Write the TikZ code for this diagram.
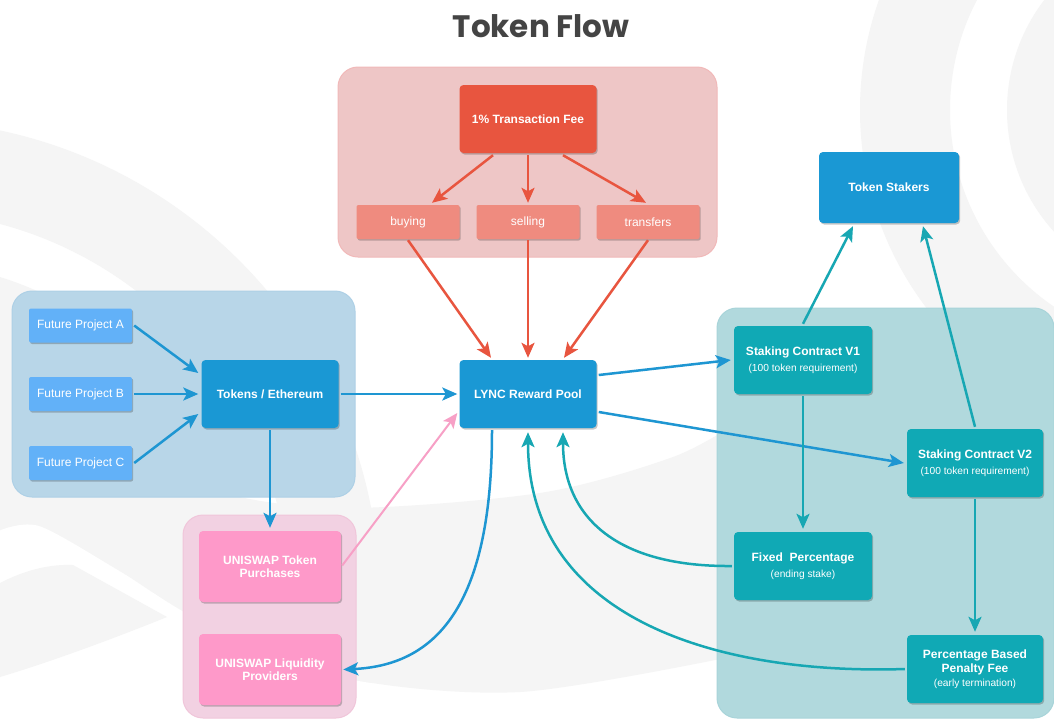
\documentclass[tikz,border=0pt]{standalone}
\usepackage{fontspec}
\setmainfont{Liberation Sans}
\newfontfamily\titlefont{Poppins}
\usetikzlibrary{arrows.meta,shadows}
\definecolor{feeRed}{HTML}{E8553F}
\definecolor{subRed}{HTML}{EF8B7F}
\definecolor{redBox}{HTML}{EEC6C6}
\definecolor{redBoxLine}{HTML}{F1B9B9}
\definecolor{blueBox}{HTML}{B8D6E8}
\definecolor{blueBoxLine}{HTML}{AED0E6}
\definecolor{futBlue}{HTML}{62B1F8}
\definecolor{mainBlue}{HTML}{1A98D4}
\definecolor{pinkBox}{HTML}{F2D1E2}
\definecolor{pinkBoxLine}{HTML}{F0C6DA}
\definecolor{pinkNode}{HTML}{FE99C9}
\definecolor{tealBox}{HTML}{B1D9DD}
\definecolor{tealBoxLine}{HTML}{A8D4D9}
\definecolor{tealNode}{HTML}{10A9B5}
\definecolor{tealArrow}{HTML}{17A7B3}
\definecolor{blueArrow}{HTML}{1E96D2}
\definecolor{pinkArrow}{HTML}{F7A0C6}
\definecolor{titleGray}{HTML}{444444}
\definecolor{wmGray}{HTML}{F5F5F5}
\newcommand{\subtxt}{\fontsize{10.2}{12}\selectfont\mdseries}
\begin{document}
\begin{tikzpicture}[x=1pt,y=-1pt,
  nodebox/.style={rectangle, rounded corners=4pt, inner sep=0pt, text=white, align=center,
    drop shadow={shadow xshift=1.2pt, shadow yshift=-1.5pt, opacity=0.22, fill=black}},
  bigbold/.style={font={\fontsize{12}{14}\selectfont\bfseries}},
  twoline/.style={font={\fontsize{12}{13.5}\selectfont\bfseries}},
  plain/.style={font={\fontsize{12}{14}\selectfont}},
  container/.style={rounded corners=20pt, line width=1pt},
  arr/.style={line width=2.5pt, -{Stealth[length=15pt,width=13pt,inset=3.5pt]}},
  redarr/.style={arr, draw=feeRed},
  bluearr/.style={arr, draw=blueArrow},
  tealarr/.style={arr, draw=tealArrow},
  pinkarr/.style={arr, draw=pinkArrow}
]
\useasboundingbox (0,0) rectangle (1054,718);
\fill[white] (0,0) rectangle (1054,718);

% watermark
\begin{scope}
  \clip (0,0) rectangle (1054,718);
  \fill[wmGray, even odd rule] (1188,110) circle[radius=328] (1188,110) circle[radius=238] (1188,110) circle[radius=181];
  \begin{scope}
    \clip (-10,-10) -- (-10,530) -- plot[smooth] coordinates {(0,530) (40,526) (120,571) (200,620) (340,677) (520,692) (740,655)} -- (760,655) -- (760,-10) -- cycle;
    \fill[wmGray, even odd rule] (-100,600) circle[radius=480] (-100,600) circle[radius=389] (-100,600) circle[radius=338];
    \fill[wmGray] (0,407) -- plot[smooth] coordinates {(0,407) (200,487) (340,508) (540,493) (673,457) (740,421)} -- (760,421) -- (760,718) -- (0,718) -- cycle;
  \end{scope}
  \fill[wmGray] (0,583) .. controls (25,570) and (50,564) .. (73,565) -- (167,617) .. controls (110,640) and (50,662) .. (0,677) -- cycle;
\end{scope}

% title
\node[font={\titlefont\bfseries\fontsize{31}{36}\selectfont}, text=titleGray] (title) at (541,26) {Token Flow};

% containers
\draw[container, fill=redBox, draw=redBoxLine] (338,67) rectangle (717,257);
\draw[container, fill=blueBox, draw=blueBoxLine] (12,291) rectangle (355,497);
\draw[container, fill=pinkBox, draw=pinkBoxLine] (183,515) rectangle (356,718);
\draw[container, fill=tealBox, draw=tealBoxLine] (717,308) rectangle (1054,718);

% nodes
\node[nodebox, bigbold, fill=feeRed, minimum width=137pt, minimum height=68pt] (fee) at (528,119) {1\% Transaction Fee};
\node[nodebox, plain, fill=subRed, minimum width=103pt, minimum height=34pt, rounded corners=2pt] (buying) at (408,222) {buying};
\node[nodebox, plain, fill=subRed, minimum width=103pt, minimum height=34pt, rounded corners=2pt] (selling) at (528,222) {selling};
\node[nodebox, plain, fill=subRed, minimum width=103pt, minimum height=34pt, rounded corners=2pt] (transfers) at (648,222) {transfers};

\node[nodebox, plain, fill=futBlue, minimum width=103pt, minimum height=34pt, rounded corners=2pt] (futA) at (80.5,325.5) {Future Project A};
\node[nodebox, plain, fill=futBlue, minimum width=103pt, minimum height=34pt, rounded corners=2pt] (futB) at (80.5,394) {Future Project B};
\node[nodebox, plain, fill=futBlue, minimum width=103pt, minimum height=34pt, rounded corners=2pt] (futC) at (80.5,463) {Future Project C};
\node[nodebox, bigbold, fill=mainBlue, minimum width=137pt, minimum height=68pt] (tokens) at (270,394) {Tokens / Ethereum};
\node[nodebox, bigbold, fill=mainBlue, minimum width=137pt, minimum height=68pt] (lync) at (528,394) {LYNC Reward Pool};

\node[nodebox, twoline, fill=pinkNode, minimum width=142pt, minimum height=71pt] (uniTP) at (270,566.5) {UNISWAP Token\\Purchases};
\node[nodebox, twoline, fill=pinkNode, minimum width=142pt, minimum height=71pt] (uniLP) at (270,669.5) {UNISWAP Liquidity\\Providers};

\node[nodebox, bigbold, fill=mainBlue, minimum width=140pt, minimum height=71pt] (stakers) at (889,187.5) {Token Stakers};
\node[nodebox, font={\fontsize{12}{15}\selectfont\bfseries}, fill=tealNode, minimum width=138pt, minimum height=68pt] (v1) at (803,360) {Staking Contract V1\\[1pt]{\subtxt (100 token requirement)}};
\node[nodebox, font={\fontsize{12}{15}\selectfont\bfseries}, fill=tealNode, minimum width=136pt, minimum height=68pt] (v2) at (975,463) {Staking Contract V2\\[1pt]{\subtxt (100 token requirement)}};
\node[nodebox, font={\fontsize{12}{15}\selectfont\bfseries}, fill=tealNode, minimum width=138pt, minimum height=68pt] (fixed) at (803,566) {Fixed\ \ Percentage\\[1pt]{\subtxt (ending stake)}};
\node[nodebox, font={\fontsize{12}{14}\selectfont\bfseries}, fill=tealNode, minimum width=136pt, minimum height=68pt] (penalty) at (975,669) {Percentage Based\\Penalty Fee\\{\subtxt (early termination)}};

% red connectors
\draw[redarr] ([xshift=-35pt,yshift=-2pt]fee.south) -- ([xshift=24pt,yshift=2pt]buying.north);
\draw[redarr] ([yshift=-2pt]fee.south) -- ([yshift=2pt]selling.north);
\draw[redarr] ([xshift=35pt,yshift=-2pt]fee.south) -- ([xshift=-2pt,yshift=2pt]transfers.north);
\draw[redarr] ([yshift=-1pt]buying.south) -- ([xshift=-37pt,yshift=2pt]lync.north);
\draw[redarr] ([yshift=-1pt]selling.south) -- ([yshift=2pt]lync.north);
\draw[redarr] ([yshift=-1pt]transfers.south) -- ([xshift=36pt,yshift=2pt]lync.north);

% blue connectors (left)
\draw[bluearr] ([xshift=2pt]futA.east) -- ([xshift=-3pt,yshift=21pt]tokens.west);
\draw[bluearr] ([xshift=2pt]futB.east) -- ([xshift=-3pt]tokens.west);
\draw[bluearr] ([xshift=2pt]futC.east) -- ([xshift=-3pt,yshift=-20pt]tokens.west);
\draw[bluearr] ([xshift=2pt]tokens.east) -- ([xshift=-2pt]lync.west);
\draw[bluearr] ([yshift=-2pt]tokens.south) -- ([yshift=3pt]uniTP.north);
\draw[pinkarr, line width=2pt] ([xshift=1pt,yshift=1pt]uniTP.east) -- ([xshift=-2pt,yshift=-19pt]lync.west);
\draw[bluearr] ([xshift=-36pt,yshift=-2pt]lync.south) .. controls (492,600) and (440,665) .. ([xshift=2pt]uniLP.east);

% right connectors
\draw[bluearr] ([yshift=19pt,xshift=2pt]lync.east) -- ([xshift=-3pt]v1.west);
\draw[bluearr] ([yshift=-18pt,xshift=2pt]lync.east) -- ([xshift=-3pt]v2.west);
\draw[tealarr] ([yshift=2pt]v1.north) -- ([xshift=-36pt,yshift=-3pt]stakers.south);
\draw[tealarr] ([yshift=2pt]v2.north) -- ([xshift=34pt,yshift=-3pt]stakers.south);
\draw[tealarr] ([yshift=-2pt]v1.south) -- ([yshift=3pt]fixed.north);
\draw[tealarr] ([yshift=-2pt]v2.south) -- ([yshift=3pt]penalty.north);
\draw[tealarr] ([xshift=-2pt]fixed.west) .. controls (620,567) and (563,520) .. ([xshift=35pt,yshift=-4pt]lync.south);
\draw[tealarr] ([xshift=-2pt]penalty.west) .. controls (720,675) and (528,620) .. ([yshift=-4pt]lync.south);
\end{tikzpicture}
\end{document}
